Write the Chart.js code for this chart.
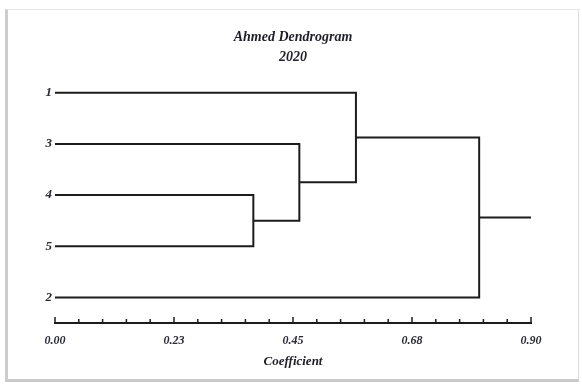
<!DOCTYPE html>
<html>
<head>
<meta charset="utf-8">
<script src="https://cdn.jsdelivr.net/npm/chart.js@4.4.1/dist/chart.umd.min.js"></script>
<style>
  html, body { margin: 0; padding: 0; background: #fff; }
  #frame {
    position: absolute;
    left: 5px;
    top: 9px;
    width: 570px;
    height: 369px;
    border-left: 3px solid #cdcdcd;
    border-top: 1px solid #e8e8e8;
    border-right: 1px solid #dcdcdc;
    border-bottom: 3px solid #c9c9c9;
    background: #fff;
  }
  canvas { display: block; }
</style>
</head>
<body>
<div id="frame"><canvas id="dendro" width="570" height="369"></canvas></div>
<script>
// leaves, top to bottom
var leafLabels = ['1', '3', '4', '5', '2'];
// each merge joins mergeA[i] with mergeB[i] at mergeHeight[i]; cN = result of merge N
var mergeA = ['4', '3', '1', 'c3'];
var mergeB = ['5', 'c1', 'c2', '2'];
var mergeHeight = [0.375, 0.462, 0.569, 0.802];
var rootEnd = 0.90;

// x axis
var axisMax = 0.90;
var majorTicks = [0, 0.225, 0.45, 0.675, 0.90];
var majorLabels = ['0.00', '0.23', '0.45', '0.68', '0.90'];
var minorPerMajor = 5;

var fontFamily = "'Liberation Serif', 'Times New Roman', serif";
var ink = '#1c1c1c';

// positions of leaves and clusters in data units
function buildNodes() {
    var nodes = {};
    leafLabels.forEach(function (name, i) {
        nodes[name] = { x: 0, y: i };
    });
    for (var i = 0; i < mergeHeight.length; i++) {
        var a = nodes[mergeA[i]], b = nodes[mergeB[i]];
        nodes['c' + (i + 1)] = { x: mergeHeight[i], y: (a.y + b.y) / 2 };
    }
    return nodes;
}

function buildDatasets() {
    var nodes = buildNodes();
    var sets = [];
    for (var i = 0; i < mergeHeight.length; i++) {
        var a = nodes[mergeA[i]], b = nodes[mergeB[i]], h = mergeHeight[i];
        sets.push({
            data: [
                { x: a.x, y: a.y },
                { x: h, y: a.y },
                { x: h, y: b.y },
                { x: b.x, y: b.y }
            ]
        });
    }
    var root = nodes['c' + mergeHeight.length];
    sets.push({ data: [{ x: root.x, y: root.y }, { x: rootEnd, y: root.y }] });
    return sets.map(function (s) {
        s.showLine = true;
        s.borderColor = ink;
        s.borderWidth = 2;
        s.pointRadius = 0;
        s.tension = 0;
        s.borderJoinStyle = 'miter';
        return s;
    });
}

// small upward tick marks along the coefficient axis
var axisTicksPlugin = {
    id: 'axisTicks',
    afterDraw: function (chart) {
        var scale = chart.scales.x;
        var ctx = chart.ctx;
        var y = scale.top;
        var step = (majorTicks[1] - majorTicks[0]) / minorPerMajor;
        var count = Math.round(axisMax / step);
        ctx.save();
        ctx.strokeStyle = ink;
        ctx.lineWidth = 1.5;
        for (var i = 0; i <= count; i++) {
            var px = scale.getPixelForValue(i * step);
            var len = (i % minorPerMajor === 0) ? 6 : 4;
            ctx.beginPath();
            ctx.moveTo(px, y);
            ctx.lineTo(px, y - len);
            ctx.stroke();
        }
        ctx.restore();
    }
};

new Chart(document.getElementById('dendro'), {
    type: 'scatter',
    data: { datasets: buildDatasets() },
    plugins: [axisTicksPlugin],
    options: {
        responsive: false,
        animation: false,
        layout: { padding: { left: 0, right: 0, top: 0, bottom: 6 } },
        plugins: {
            legend: { display: false },
            tooltip: { enabled: false },
            title: {
                display: true,
                text: ['Ahmed Dendrogram', '2020'],
                color: '#1f1f28',
                font: { family: fontFamily, size: 14, style: 'italic', weight: 'bold', lineHeight: 1.4 },
                padding: { top: 18, bottom: 0 }
            }
        },
        scales: {
            x: {
                type: 'linear',
                min: 0,
                max: axisMax,
                grid: { display: false, drawTicks: false },
                border: { display: true, color: ink, width: 2 },
                afterBuildTicks: function (scale) {
                    scale.ticks = majorTicks.map(function (v) { return { value: v }; });
                },
                ticks: {
                    autoSkip: false,
                    maxRotation: 0,
                    padding: 11,
                    color: '#2a2a36',
                    font: { family: fontFamily, size: 12, style: 'italic', weight: 'bold' },
                    callback: function (value, index) { return majorLabels[index]; }
                },
                title: {
                    display: true,
                    text: 'Coefficient',
                    color: '#1f1f28',
                    font: { family: fontFamily, size: 13, style: 'italic', weight: 'bold' },
                    padding: { top: -6, bottom: 4 }
                }
            },
            y: {
                type: 'linear',
                reverse: true,
                min: -0.5,
                max: leafLabels.length - 0.5,
                grid: { display: false, drawTicks: false },
                border: { display: false },
                afterBuildTicks: function (scale) {
                    scale.ticks = leafLabels.map(function (l, i) { return { value: i }; });
                },
                afterFit: function (scale) { scale.width = 47; },
                ticks: {
                    autoSkip: false,
                    padding: 3,
                    color: '#2a2a36',
                    font: { family: fontFamily, size: 13, style: 'italic', weight: 'bold' },
                    callback: function (value) { return leafLabels[value]; }
                }
            },
            // empty right-hand margin so the title stays centred on the frame
            yRight: {
                type: 'linear',
                position: 'right',
                grid: { display: false, drawTicks: false },
                border: { display: false },
                ticks: { display: false },
                afterFit: function (scale) { scale.width = 47; }
            }
        }
    }
});
</script>
</body>
</html>
